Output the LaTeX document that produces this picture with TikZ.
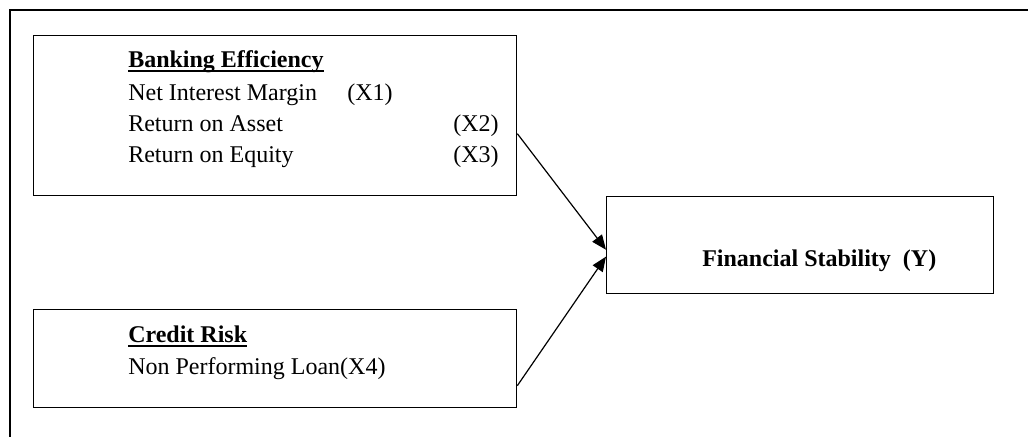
\documentclass[tikz,border=0pt]{standalone}
\usepackage{fontspec}
\setmainfont{Liberation Serif}
\usetikzlibrary{arrows.meta}
\newcommand{\myul}[1]{\setbox0\hbox{#1}\rlap{\rule[-3.75pt]{\wd0}{1.4pt}}\box0}
\begin{document}
\begin{tikzpicture}[x=0.75pt,y=-0.75pt,
  box/.style={draw,line width=1pt,rectangle,inner sep=0pt,anchor=north west},
  txt/.style={anchor=base west,inner sep=0pt,font=\fontsize{18}{21}\selectfont},
  arr/.style={-{Triangle[length=11pt,width=9pt]},line width=0.9pt}]
\useasboundingbox (0,0) rectangle (1028,436);
\draw[line width=1.5pt] (9.5,440) -- (9.5,10) -- (1032,10);
% boxes
\node[box,minimum width=362.25pt,minimum height=120pt] (be) at (33,35) {};
\node[box,minimum width=362.25pt,minimum height=73.5pt] (cr) at (33,309) {};
\node[box,minimum width=290.25pt,minimum height=72.75pt] (fs) at (606,196) {};
% texts
\node[txt] (t1) at (128,67) {\myul{\textbf{Banking Efficiency}}};
\node[txt] (t2) at (128,100) {Net Interest Margin};
\node[txt] (t2x) at (347,100) {(X1)};
\node[txt] (t3) at (128,131) {Return on Asset};
\node[txt] (t3x) at (453,131) {(X2)};
\node[txt] (t4) at (128,162) {Return on Equity};
\node[txt] (t4x) at (453,162) {(X3)};
\node[txt] (t5) at (128,342) {\myul{\textbf{Credit Risk}}};
\node[txt] (t6) at (128,374) {Non Performing Loan(X4)};
\node[txt] (t7) at (702,266) {\textbf{Financial Stability\ \ (Y)}};
% arrows
\draw[arr] ([yshift=-13.5pt]be.east) -- ([yshift=-3.4pt]fs.west);
\draw[arr] ([yshift=-20.25pt]cr.east) -- ([yshift=-8.6pt]fs.west);
\end{tikzpicture}
\end{document}
